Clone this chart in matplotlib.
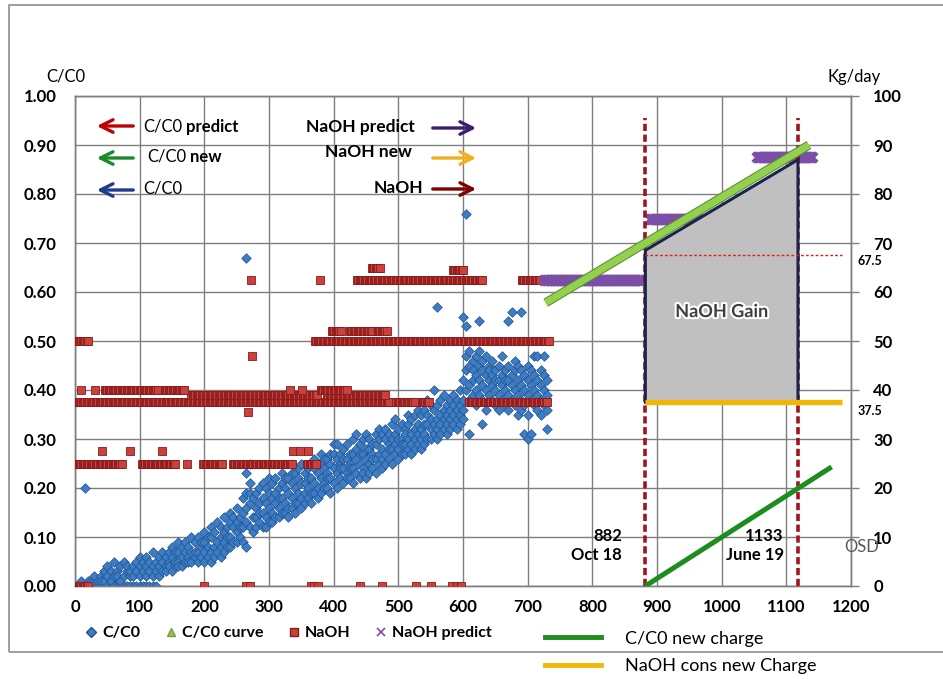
import numpy as np
import matplotlib.pyplot as plt
from matplotlib.lines import Line2D
from matplotlib.patches import Rectangle, Polygon
import matplotlib.patheffects as pe

plt.rcParams['font.family'] = ['Lato', 'DejaVu Sans']

# C/C0 readings: one column of values every 5 days (0 .. 730)
cc_days = list(range(0, 735, 5))
cc_vals = [
    [0.00, 0.00], [0.00], [0.00, 0.01], [0.00, 0.20], [0.00, 0.01], [0.00, 0.01],
    [0.00, 0.01, 0.02], [0.00, 0.01], [0.00, 0.02, 0.01], [0.00, 0.01, 0.03],
    [0.00, 0.02, 0.04], [0.00, 0.01, 0.03], [0.00, 0.02, 0.05], [0.00, 0.03, 0.02],
    [0.00, 0.01, 0.04], [0.00, 0.02, 0.05], [0.00, 0.03, 0.04], [0.00, 0.02, 0.03],
    [0.00, 0.04, 0.02], [0.00, 0.03, 0.05], [0.00, 0.02, 0.04, 0.06], [0.00, 0.03, 0.05],
    [0.00, 0.04, 0.06, 0.02], [0.00, 0.03, 0.05], [0.00, 0.04, 0.07, 0.02], [0.00, 0.03, 0.05],
    [0.04, 0.06, 0.02], [0.03, 0.05, 0.07], [0.04, 0.06, 0.03], [0.05, 0.07, 0.04],
    [0.03, 0.06, 0.08], [0.04, 0.05, 0.07], [0.05, 0.07, 0.04, 0.09], [0.04, 0.06, 0.08],
    [0.05, 0.07, 0.09], [0.06, 0.08, 0.05], [0.05, 0.07, 0.10], [0.06, 0.09, 0.07],
    [0.07, 0.05, 0.10], [0.06, 0.08, 0.09], [0.07, 0.09, 0.11, 0.05], [0.06, 0.08, 0.10],
    [0.07, 0.10, 0.12, 0.05], [0.08, 0.06, 0.11], [0.07, 0.09, 0.13], [0.08, 0.10, 0.12, 0.06],
    [0.09, 0.11, 0.07, 0.14], [0.08, 0.12, 0.10], [0.10, 0.13, 0.08, 0.15], [0.09, 0.12, 0.14],
    [0.11, 0.13, 0.16, 0.09], [0.10, 0.14, 0.12], [0.12, 0.15, 0.18, 0.09],
    [0.08, 0.13, 0.19, 0.23, 0.16, 0.67], [0.12, 0.17, 0.21, 0.25, 0.19], [0.11, 0.14, 0.18],
    [0.12, 0.16, 0.19, 0.14], [0.13, 0.17, 0.15, 0.20], [0.12, 0.18, 0.15, 0.21],
    [0.14, 0.17, 0.20, 0.12], [0.13, 0.16, 0.19, 0.22], [0.15, 0.18, 0.13, 0.21],
    [0.14, 0.19, 0.17, 0.22], [0.16, 0.20, 0.14, 0.18], [0.15, 0.18, 0.21, 0.23],
    [0.17, 0.20, 0.15, 0.22], [0.16, 0.19, 0.22, 0.14], [0.18, 0.21, 0.16, 0.23],
    [0.17, 0.20, 0.23, 0.15], [0.19, 0.22, 0.17, 0.24], [0.18, 0.21, 0.16, 0.25],
    [0.19, 0.23, 0.17, 0.21], [0.20, 0.18, 0.24, 0.22], [0.19, 0.22, 0.25, 0.17],
    [0.21, 0.19, 0.24, 0.26], [0.20, 0.23, 0.18, 0.25], [0.22, 0.19, 0.25, 0.27],
    [0.21, 0.24, 0.20, 0.26], [0.23, 0.20, 0.26, 0.22], [0.22, 0.25, 0.19, 0.27],
    [0.24, 0.21, 0.27, 0.29], [0.23, 0.26, 0.20, 0.29], [0.22, 0.25, 0.27, 0.24],
    [0.24, 0.21, 0.26, 0.28], [0.23, 0.26, 0.22, 0.29], [0.25, 0.22, 0.27, 0.24],
    [0.24, 0.27, 0.21, 0.30], [0.26, 0.23, 0.28, 0.31], [0.25, 0.22, 0.27, 0.29],
    [0.24, 0.27, 0.23, 0.30], [0.26, 0.22, 0.28, 0.31], [0.25, 0.28, 0.23, 0.30],
    [0.27, 0.24, 0.29, 0.26], [0.26, 0.29, 0.23, 0.31], [0.27, 0.25, 0.30, 0.32],
    [0.28, 0.24, 0.26, 0.31], [0.27, 0.30, 0.25, 0.32], [0.29, 0.26, 0.31, 0.28],
    [0.28, 0.25, 0.30, 0.33], [0.29, 0.27, 0.34, 0.31], [0.28, 0.30, 0.26, 0.32],
    [0.30, 0.27, 0.29, 0.33], [0.29, 0.32, 0.27, 0.31], [0.30, 0.28, 0.33, 0.35],
    [0.31, 0.29, 0.34, 0.27], [0.30, 0.32, 0.28, 0.35], [0.31, 0.29, 0.33, 0.36],
    [0.32, 0.30, 0.35, 0.28], [0.31, 0.33, 0.29, 0.36], [0.33, 0.30, 0.35, 0.38],
    [0.32, 0.34, 0.30, 0.37], [0.33, 0.31, 0.36, 0.40], [0.34, 0.32, 0.37, 0.57, 0.30],
    [0.33, 0.35, 0.31, 0.38], [0.34, 0.32, 0.36, 0.39], [0.35, 0.33, 0.37, 0.31],
    [0.34, 0.36, 0.32, 0.38], [0.35, 0.33, 0.37, 0.39], [0.34, 0.36, 0.32, 0.38],
    [0.35, 0.37, 0.33, 0.40], [0.36, 0.38, 0.34, 0.42, 0.55], [0.40, 0.44, 0.47, 0.76, 0.53],
    [0.41, 0.45, 0.38, 0.48, 0.31], [0.42, 0.46, 0.39, 0.44], [0.40, 0.43, 0.47, 0.37],
    [0.42, 0.45, 0.39, 0.48, 0.54], [0.41, 0.44, 0.38, 0.46, 0.33], [0.43, 0.40, 0.47, 0.36],
    [0.42, 0.45, 0.39, 0.44], [0.41, 0.43, 0.38, 0.46], [0.40, 0.44, 0.37, 0.42],
    [0.42, 0.39, 0.45, 0.36], [0.41, 0.43, 0.38, 0.47], [0.40, 0.44, 0.37, 0.42],
    [0.42, 0.39, 0.45, 0.54, 0.36], [0.41, 0.43, 0.38, 0.56], [0.40, 0.44, 0.37, 0.46],
    [0.42, 0.39, 0.45, 0.35], [0.41, 0.38, 0.44, 0.56, 0.36], [0.40, 0.43, 0.37, 0.31],
    [0.42, 0.39, 0.45, 0.30, 0.35], [0.41, 0.38, 0.44, 0.31], [0.40, 0.43, 0.37, 0.47],
    [0.39, 0.42, 0.36, 0.47], [0.41, 0.38, 0.44, 0.35], [0.40, 0.37, 0.43, 0.47],
    [0.39, 0.32, 0.42, 0.36],
]

# NaOH dosing kg/day: runs of constant dose (first day, last day, dose)
naoh_runs = [
    (0, 20, 0),
    (0, 72, 25), (103, 155, 25), (198, 229, 25), (244, 337, 25), (359, 374, 25),
    (0, 487, 37.5), (497, 525, 37.5), (536, 549, 37.5), (610, 731, 37.5),
    (180, 375, 39), (390, 480, 39),
    (46, 128, 40), (139, 170, 40), (380, 420, 40),
    (0, 20, 50), (371, 734, 50), (397, 412, 52), (425, 459, 52), (468, 482, 52),
    (436, 631, 62.5), (459, 471, 65), (584, 600, 64.5), (691, 719, 62.5),
]
naoh_single_x = [200, 265, 270, 365, 370, 375, 440, 475, 528, 550, 583, 590, 597,
                 173, 42, 85, 134, 337, 348, 360, 267, 9, 31, 332, 351, 274, 272, 379]
naoh_single_y = [0, 0, 0, 0, 0, 0, 0, 0, 0, 0, 0, 0, 0,
                 25, 27.5, 27.5, 27.5, 27.5, 27.5, 27.5, 35.5, 40, 40, 40, 40, 47, 62.5, 62.5]

# NaOH predict steps
predict_runs = [(726, 876, 62.5), (889, 963, 75), (1054, 1140, 87.5)]

# new charge scenario
curve_x = [728, 1135]
curve_y = [57.8, 90]
gain_x = [882, 882, 1118, 1118]
gain_y = [37.5, 68.5, 87, 37.5]
new_charge_x = [882, 1170]
new_charge_y = [0, 24.3]
naoh_new_x = [882, 1186]
naoh_new_y = [37.5, 37.5]
ref_line_x = [882, 1186]
ref_line_y = [67.5, 67.5]
charge_days = [882, 1118]
charge_top = 95.5

GRID = '#7f7f7f'

fig = plt.figure(figsize=(9.43, 6.79), dpi=100)
fig.add_artist(Rectangle((9 / 943, 1 - 652 / 679), 1.0, 647 / 679, transform=fig.transFigure,
                         fill=False, edgecolor='#8c8c8c', lw=1.2))

ax = fig.add_axes([75 / 943, 1 - 586 / 679, 776 / 943, 490 / 679])
ax.set_xlim(0, 1200)
ax.set_ylim(0, 1)
ax.set_xticks(np.arange(0, 1201, 100))
ax.set_yticks(np.arange(0, 1.01, 0.1))
ax.set_yticklabels(['%.2f' % v for v in np.arange(0, 1.01, 0.1)])
ax.grid(True, color=GRID, lw=1.0)
ax.set_axisbelow(True)
ax.tick_params(axis='both', length=0, labelsize=12)
ax.tick_params(axis='y', pad=13)
ax.tick_params(axis='x', pad=9)
for lab in ax.get_xticklabels() + ax.get_yticklabels():
    lab.set_fontweight('bold')
for s in ax.spines.values():
    s.set_color(GRID)
    s.set_linewidth(1.0)

xs, ys = [], []
for d, vals in zip(cc_days, cc_vals):
    for v in vals:
        xs.append(d)
        ys.append(v)
ax.scatter(xs, ys, marker='D', s=24, color='#3c7dc4', edgecolor='#1f4f8f', linewidth=0.5, zorder=3)

ax2 = ax.twinx()
ax2.set_ylim(0, 100)
ax2.set_yticks(np.arange(0, 101, 10))
ax2.tick_params(axis='y', length=6, color=GRID, width=1.0, labelsize=12, pad=10)
for lab in ax2.get_yticklabels():
    lab.set_fontweight('bold')
for s in ax2.spines.values():
    s.set_color(GRID)
    s.set_linewidth(1.0)

nx, ny = [], []
for a, b, v in naoh_runs:
    pts = np.arange(a, b + 1, 2)
    nx.extend(pts)
    ny.extend([v] * len(pts))
nx.extend(naoh_single_x)
ny.extend(naoh_single_y)
ax2.scatter(nx, ny, marker='s', s=40, color='#c8413a', edgecolor='#8b1a1a', linewidth=0.6, zorder=3)

for a, b, v in predict_runs:
    pts = np.arange(a, b + 1, 2)
    ax2.scatter(pts, [v] * len(pts), marker='x', s=45, color='#7b4fa8', linewidth=2.8, zorder=4)

for d in charge_days:
    ax2.plot([d, d], [0, charge_top], color='#a0141e', lw=2.6, dashes=(2, 1), zorder=4)

ax2.add_patch(Polygon(list(zip(gain_x, gain_y)), closed=True, facecolor='#c0c0c0',
                      edgecolor='#1b2450', lw=2.2, zorder=5))
ax2.plot(ref_line_x, ref_line_y, color='#e02020', lw=1.0, ls=(0, (2, 1.5)), zorder=6)
ax2.plot(naoh_new_x, naoh_new_y, color='#f2b705', lw=3.8, solid_capstyle='butt', zorder=6)
ax2.plot(new_charge_x, new_charge_y, color='#1e8c1e', lw=3.6, solid_capstyle='butt', zorder=6)
ax2.plot(curve_x, curve_y, color='#92d050', lw=5.0, solid_capstyle='butt', zorder=6,
         path_effects=[pe.Stroke(linewidth=6.5, foreground='#5e8c2a'), pe.Normal()])

ax2.text(1000, 56, 'NaOH Gain', ha='center', va='center', fontsize=13, fontweight='bold',
         color='#3f3f3f', zorder=7, path_effects=[pe.withStroke(linewidth=3, foreground='white')])
ax2.text(846, 8.2, '882\nOct 18', ha='right', va='center', fontsize=12, fontweight='bold',
         linespacing=1.25, multialignment='right', zorder=7)
ax2.text(1096, 8.2, '1133\nJune 19', ha='right', va='center', fontsize=12, fontweight='bold',
         linespacing=1.25, multialignment='right', zorder=7)
ax2.text(1190, 8.0, 'OSD', ha='left', va='center', fontsize=12, color='#595959', zorder=7)
ax2.text(1.008, 67.5, '67.5', transform=ax2.get_yaxis_transform(), ha='left', va='top',
         fontsize=9, fontweight='bold')
ax2.text(1.008, 37.0, '37.5', transform=ax2.get_yaxis_transform(), ha='left', va='top',
         fontsize=9, fontweight='bold')

# arrow captions
def px2ax(px, py):
    return ((px - 75) / 776, (586 - py) / 490)

arrow_kw = dict(arrowstyle='->,head_length=0.6,head_width=0.3', lw=2.4, mutation_scale=15)
left_arrows = [(126, '#c00000'), (158, '#1a8a2a'), (190, '#1f3c88')]
for py, col in left_arrows:
    ax.annotate('', xy=px2ax(94, py), xytext=px2ax(136, py), xycoords='axes fraction',
                arrowprops=dict(color=col, **arrow_kw), zorder=8)
t1 = ax.text(*px2ax(143, 127), 'C/C0', transform=ax.transAxes, va='center', fontsize=12)
ax.annotate('predict', xy=(1, 0.5), xycoords=t1, xytext=(3, 0), textcoords='offset points',
            va='center', ha='left', fontsize=12, fontweight='bold')
t2 = ax.text(*px2ax(147, 157), 'C/C0', transform=ax.transAxes, va='center', fontsize=12)
ax.annotate('new', xy=(1, 0.5), xycoords=t2, xytext=(3, 0), textcoords='offset points',
            va='center', ha='left', fontsize=12, fontweight='bold')
ax.text(*px2ax(143, 188), 'C/C0', transform=ax.transAxes, va='center', fontsize=12)

right_arrows = [(128, '#3c1e6e'), (158, '#f0b020'), (189, '#800000')]
for py, col in right_arrows:
    ax.annotate('', xy=px2ax(479, py), xytext=px2ax(430, py), xycoords='axes fraction',
                arrowprops=dict(color=col, **arrow_kw), zorder=8)
ax.text(*px2ax(415, 127), 'NaOH predict', transform=ax.transAxes, ha='right', va='center',
        fontsize=12.5, fontweight='bold')
ax.text(*px2ax(412, 152), 'NaOH new', transform=ax.transAxes, ha='right', va='center',
        fontsize=12.5, fontweight='bold')
ax.text(*px2ax(423, 188), 'NaOH', transform=ax.transAxes, ha='right', va='center',
        fontsize=12.5, fontweight='bold')

fig.text(66 / 943, 1 - 77 / 679, 'C/C0', ha='center', va='center', fontsize=12)
fig.text(854 / 943, 1 - 77 / 679, 'Kg/day', ha='center', va='center', fontsize=12)

h1 = [Line2D([], [], ls='None', marker='D', markersize=5, markerfacecolor='#3c7dc4', markeredgecolor='#1f4f8f'),
      Line2D([], [], ls='None', marker='^', markersize=6, markerfacecolor='#9bbb59', markeredgecolor='#7a9a40'),
      Line2D([], [], ls='None', marker='s', markersize=6, markerfacecolor='#c8413a', markeredgecolor='#8b1a1a'),
      Line2D([], [], ls='None', marker='x', markersize=6, markeredgewidth=1.2, color='#7b4fa8')]
fig.legend(h1, ['C/C0', 'C/C0 curve', 'NaOH', 'NaOH predict'], loc='center left',
           bbox_to_anchor=(85 / 943, 1 - 633 / 679), ncol=4, frameon=False,
           prop={'size': 11.5, 'weight': 'bold'}, handlelength=0.8, handletextpad=0.3,
           columnspacing=1.5, borderpad=0, borderaxespad=0)

h2 = [Line2D([], [], color='#1e8c1e', lw=3.5), Line2D([], [], color='#f2b705', lw=3.5)]
fig.legend(h2, ['C/C0 new charge', 'NaOH cons new Charge'], loc='center left',
           bbox_to_anchor=(545 / 943, 1 - 652.5 / 679), frameon=False, fontsize=13,
           handlelength=3.1, handletextpad=1.35, labelspacing=0.65, borderpad=0, borderaxespad=0)

fig.savefig('out.png', dpi=100)
